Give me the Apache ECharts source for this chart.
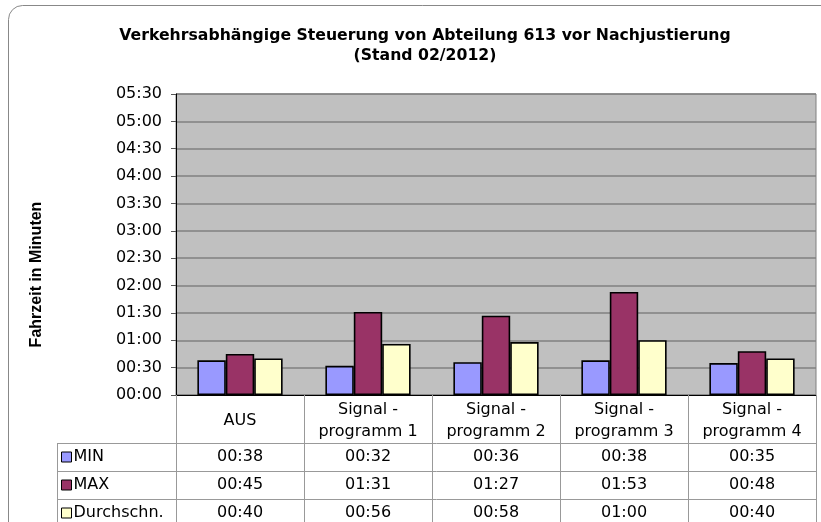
<!DOCTYPE html>
<html>
<head>
<meta charset="utf-8">
<script src="https://cdn.jsdelivr.net/npm/echarts@6/dist/echarts.min.js"></script>
<style>
  html, body { margin: 0; padding: 0; background: #fff; }
  #chart { width: 821px; height: 522px; }
</style>
</head>
<body>
<div id="chart"></div>
<script>
// Kategorien und Werte (Sekunden)
var categories = ['AUS', 'Signal -\nprogramm 1', 'Signal -\nprogramm 2', 'Signal -\nprogramm 3', 'Signal -\nprogramm 4'];
var seriesNames = ['MIN', 'MAX', 'Durchschn.'];
var minValues = [38, 32, 36, 38, 35];
var maxValues = [45, 91, 87, 113, 48];
var avgValues = [40, 56, 58, 60, 40];
var colors = ['#9999ff', '#993366', '#ffffcc'];

var FONT = 'DejaVu Sans';

function fmt(sec) {
    var m = Math.floor(sec / 60);
    var s = sec % 60;
    return (m < 10 ? '0' + m : '' + m) + ':' + (s < 10 ? '0' + s : '' + s);
}

var chart = echarts.init(document.getElementById('chart'));

var allValues = [minValues, maxValues, avgValues];
var series = [];
for (var i = 0; i < seriesNames.length; i++) {
    series.push({
        name: seriesNames[i],
        type: 'bar',
        data: allValues[i],
        barWidth: '22.2%',
        barGap: '0%',
        itemStyle: { color: colors[i], borderColor: '#000', borderWidth: 1.6 },
        animation: false
    });
}

var option = {
    animation: false,
    title: {
        text: 'Verkehrsabhängige Steuerung von Abteilung 613 vor Nachjustierung\n(Stand 02/2012)',
        left: 420,
        top: 21,
        textAlign: 'center',
        textStyle: { fontFamily: FONT, fontWeight: 'bold', fontSize: 15.7, lineHeight: 20, color: '#000' }
    },
    legend: {
        orient: 'vertical',
        left: 61,
        top: 443,
        height: 100,
        itemGap: 0,
        itemWidth: 10,
        itemHeight: 10,
        icon: 'rect',
        padding: 0,
        selectedMode: false,
        itemStyle: { borderColor: '#000', borderWidth: 1 },
        textStyle: { fontFamily: FONT, fontSize: 16, lineHeight: 28, color: '#000', padding: [0, 0, 0, -3] },
        data: seriesNames
    },
    grid: {
        left: 176, right: 5, top: 94, bottom: 127,
        show: true, backgroundColor: '#c0c0c0', borderColor: '#808080', borderWidth: 1
    },
    xAxis: {
        type: 'category',
        data: categories,
        axisLine: { lineStyle: { color: '#000', width: 1 } },
        axisTick: { show: true, length: 130, lineStyle: { color: '#999' } },
        axisLabel: {
            margin: 26, verticalAlign: 'middle', lineHeight: 22,
            fontFamily: FONT, fontSize: 16, color: '#000', interval: 0
        }
    },
    yAxis: {
        type: 'value',
        min: 0, max: 330, interval: 30,
        name: 'Fahrzeit in Minuten',
        nameLocation: 'middle',
        nameRotate: 90,
        nameGap: 131,
        nameTextStyle: { fontFamily: 'Liberation Sans', fontWeight: 'bold', fontSize: 16, color: '#000', padding: [0, 60, 0, 0] },
        axisLine: { show: true, lineStyle: { color: '#000', width: 1 } },
        axisTick: { show: true, length: 5, lineStyle: { color: '#555' } },
        axisLabel: { margin: 14, fontFamily: FONT, fontSize: 16, color: '#000', formatter: fmt },
        splitLine: { lineStyle: { color: '#808080', width: 1.5 } }
    },
    series: series
};

chart.setOption(option);

// Datentabelle unter dem Diagramm
var rowTop = [443, 471, 499];
var graphics = [
    { type: 'rect', shape: { x: 8.5, y: 5.5, width: 830, height: 540, r: 14 }, style: { fill: 'none', stroke: '#888', lineWidth: 1 }, silent: true },
    { type: 'line', shape: { x1: 57, y1: 443.5, x2: 816, y2: 443.5 }, style: { stroke: '#999', lineWidth: 1 } },
    { type: 'line', shape: { x1: 57, y1: 471.5, x2: 816, y2: 471.5 }, style: { stroke: '#999', lineWidth: 1 } },
    { type: 'line', shape: { x1: 57, y1: 499.5, x2: 816, y2: 499.5 }, style: { stroke: '#999', lineWidth: 1 } },
    { type: 'line', shape: { x1: 57.5, y1: 443, x2: 57.5, y2: 522 }, style: { stroke: '#999', lineWidth: 1 } }
];
for (var r = 0; r < allValues.length; r++) {
    for (var c = 0; c < categories.length; c++) {
        var px = chart.convertToPixel({ xAxisIndex: 0 }, c);
        graphics.push({
            type: 'text',
            x: px, y: rowTop[r] + 14,
            style: {
                text: fmt(allValues[r][c]),
                fontFamily: FONT, fontSize: 16, fill: '#000',
                align: 'center', verticalAlign: 'middle'
            }
        });
    }
}
chart.setOption({ graphic: graphics });
</script>
</body>
</html>
